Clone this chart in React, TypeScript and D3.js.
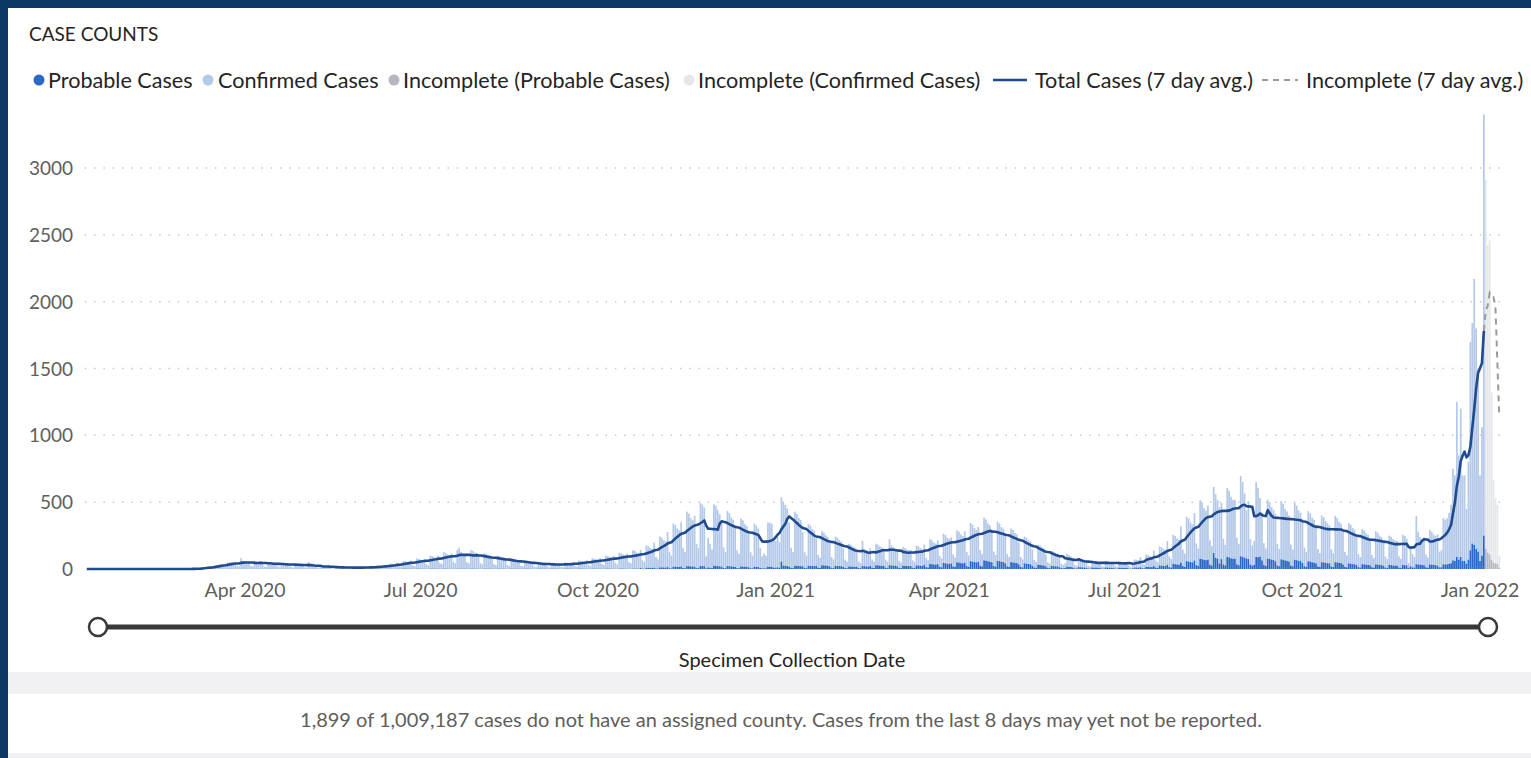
import React from "react";
import * as d3 from "d3";

// ---------- DATA ----------
// Daily specimen-collection counts, first day 2020-01-10; each row is one week (Fri..Thu)
const START = Date.UTC(2020, 0, 10);
const DAY = 86400000;

const tickLabels = ["Apr 2020", "Jul 2020", "Oct 2020", "Jan 2021", "Apr 2021", "Jul 2021", "Oct 2021", "Jan 2022"];
const tickMonths: [number, number][] = [[2020, 3], [2020, 6], [2020, 9], [2021, 0], [2021, 3], [2021, 6], [2021, 9], [2022, 0]];
const yTicks = [0, 500, 1000, 1500, 2000, 2500, 3000];

const confirmedWeeks: number[][] = [
  [0,0,0,0,0,0,0],[0,0,0,0,0,0,0],[0,0,0,0,0,0,0],[0,0,0,0,0,0,0],[0,0,0,0,0,0,0],[0,0,0,0,0,0,0],[0,0,0,0,0,0,0],
  [0,0,0,1,0,1,2],[4,2,1,8,10,11,13],[16,10,8,24,28,30,31],[36,22,18,46,50,48,46],[50,24,20,80,60,56,46],
  [52,24,20,58,56,54,58],[44,20,16,52,48,46,47],[38,18,14,46,44,40,38],[33,15,12,40,40,36,34],[28,12,10,50,30,27,18],
  [20,9,7,25,24,22,19],[14,6,5,16,16,14,13],[11,5,4,14,13,12,11],[12,5,4,15,14,14,13],[16,8,7,22,24,21,21],
  [28,13,11,38,38,34,34],[44,20,17,56,56,51,50],[60,27,22,76,74,68,65],[76,35,28,96,94,86,82],[98,45,36,122,118,108,103],
  [114,52,42,140,157,125,98],[112,51,41,138,133,122,117],[95,43,34,116,112,103,99],[79,36,29,97,94,86,83],[64,29,23,78,75,70,67],
  [51,23,18,62,60,55,53],[40,18,14,49,47,43,41],[34,16,12,42,40,37,36],[37,17,14,46,44,41,39],[50,22,18,61,58,54,52],
  [64,29,23,78,75,70,67],[79,36,29,97,94,86,83],[97,44,35,119,114,106,101],[112,51,41,138,133,122,117],[136,62,50,167,161,149,143],
  [188,86,68,231,222,205,197],[263,120,96,323,311,287,275],[332,151,121,408,393,362,347],[380,180,150,470,460,440,90],[220,180,140,460,450,420,390],
  [337,153,122,413,398,367,352],[293,133,106,359,346,319,306],[262,119,95,321,309,286,150],[90,110,95,330,330,320,200],[200,230,190,480,470,455,430],
  [330,150,120,405,390,360,345],[255,116,93,313,302,278,267],[208,95,76,255,246,227,217],[178,81,65,219,211,194,186],[139,63,50,170,164,151,145],
  [110,50,40,190,130,120,90],[131,60,48,161,155,143,137],[130,60,48,195,150,140,124],[114,52,42,140,135,125,120],[121,55,44,149,143,132,127],
  [151,69,55,185,178,164,158],[178,81,65,219,211,194,186],[196,89,71,240,231,214,205],[233,106,85,286,276,254,244],[261,119,95,320,308,284,273],
  [239,109,87,293,282,260,250],[206,94,75,252,243,224,215],[164,75,60,201,194,179,171],[123,56,45,151,146,134,129],[91,42,33,112,108,100,95],
  [72,33,26,35,95,88,80],[53,24,19,65,62,58,55],[42,19,15,51,49,46,44],[41,19,15,50,48,44,43],[39,18,14,47,46,42,40],
  [46,21,10,25,60,58,56],[75,34,27,92,88,82,78],[117,53,42,143,138,127,122],[178,81,65,219,211,194,186],[272,124,99,333,321,296,284],
  [355,162,129,436,420,388,371],[403,183,146,494,476,439,421],[421,192,153,517,498,460,440],[440,200,160,600,560,480,360],[430,190,150,180,560,520,440],
  [360,164,131,441,425,392,376],[354,161,129,435,419,386,370],[345,157,126,424,408,377,361],[306,139,111,375,361,334,320],[286,130,104,351,338,312,299],
  [283,129,103,347,334,308,296],[246,112,90,302,291,269,258],[215,98,78,263,254,234,224],[201,92,73,247,238,220,210],[179,82,65,220,212,196,187],
  [185,84,67,226,218,200,35],[150,100,80,360,245,205,169],[209,95,76,257,247,228,218],
];

const probableWeeks: number[][] = [
  [0,0,0,0,0,0,0],[0,0,0,0,0,0,0],[0,0,0,0,0,0,0],[0,0,0,0,0,0,0],[0,0,0,0,0,0,0],[0,0,0,0,0,0,0],[0,0,0,0,0,0,0],
  [0,0,0,0,0,0,0],[0,0,0,0,0,0,0],[1,0,0,1,1,1,1],[1,0,0,1,1,1,1],[1,0,0,1,1,1,1],
  [1,0,0,1,1,1,1],[1,0,0,1,1,1,1],[1,0,0,1,1,1,1],[1,0,0,1,1,1,1],[1,0,0,1,1,1,1],
  [0,0,0,1,1,0,0],[0,0,0,1,1,0,0],[0,0,0,1,1,0,0],[0,0,0,1,1,0,0],[0,0,0,1,1,0,0],
  [0,0,0,1,1,0,0],[2,1,1,3,3,2,2],[2,1,1,3,3,2,2],[2,1,1,3,3,2,2],[2,1,1,3,3,2,2],
  [2,1,1,3,3,2,2],[2,1,1,3,3,2,2],[2,1,1,3,3,2,2],[2,1,1,3,3,2,2],[2,1,1,3,3,2,2],
  [2,1,1,3,3,2,2],[2,1,1,3,3,2,2],[2,1,1,3,3,3,2],[2,1,1,3,3,3,2],[2,1,1,3,3,3,2],
  [2,1,1,3,3,3,2],[2,1,1,3,3,3,2],[2,1,1,3,3,3,2],[2,1,1,3,3,3,2],[7,3,3,9,9,8,7],
  [10,4,4,12,12,11,10],[14,6,5,17,17,16,15],[18,8,6,21,21,19,18],[18,8,7,22,22,20,5],[12,9,7,24,23,21,20],
  [17,8,6,22,21,19,18],[15,7,6,19,18,17,16],[13,6,5,17,16,15,8],[5,6,5,17,17,16,10],[10,12,10,55,25,24,22],
  [18,9,7,24,23,22,21],[20,9,7,24,23,22,21],[23,10,8,28,27,25,24],[20,9,7,24,23,22,21],[15,7,6,19,18,17,16],
  [17,8,6,22,21,19,18],[23,10,8,28,27,25,24],[23,10,8,28,27,25,24],[20,9,7,24,23,22,21],[22,10,8,27,26,24,23],
  [31,14,11,38,36,34,32],[36,17,13,45,43,40,38],[41,19,15,50,48,44,42],[47,22,17,58,56,52,49],[53,24,19,65,62,58,55],
  [50,22,18,61,58,54,52],[42,19,15,51,49,46,44],[34,15,12,42,40,37,36],[25,12,9,31,30,28,26],[19,8,7,23,22,20,20],
  [14,7,5,8,18,16,15],[11,5,4,14,13,12,11],[9,4,3,11,10,10,9],[9,4,3,11,10,10,9],[8,4,3,9,9,8,8],
  [9,4,2,5,11,11,10],[13,6,5,16,16,14,14],[21,10,8,26,25,23,22],[31,14,11,38,36,34,32],[47,22,17,58,56,52,49],
  [63,29,23,77,74,68,66],[70,32,26,120,83,77,40],[74,34,27,90,87,80,77],[77,35,28,95,91,84,80],[75,33,26,30,90,88,92],
  [64,29,23,78,75,70,67],[58,27,21,72,69,64,61],[56,26,20,69,66,61,59],[46,21,17,57,55,50,48],[42,19,15,51,49,46,44],
  [42,19,15,51,49,46,44],[34,16,12,42,40,37,36],[30,14,11,36,35,32,31],[28,13,10,34,33,30,29],[24,11,9,30,29,26,25],
  [25,11,9,30,29,27,9],[20,12,10,36,34,32,31],[28,13,10,34,33,30,29],
];

// 2021-12-10 .. 2022-01-03 (complete)
const confirmedTail = [235,118,127,345,336,345,382,437,685,640,1160,780,1110,640,640,410,730,1560,1650,1990,1650,1370,640,960,3150];
const probableTail = [25,12,13,35,34,35,38,43,65,60,90,70,90,60,60,40,70,140,190,180,150,130,60,100,250];
// last 8 days (incomplete)
const incompleteConfirmed = [2760,2300,2350,1250,620,490,440,90];
const incompleteProbable = [150,123,110,70,46,40,40,10];

const legendItems = [
  { label: "Probable Cases", kind: "dot", color: "#2b67c7", x: 39, tx: 48 },
  { label: "Confirmed Cases", kind: "dot", color: "#b4c9e9", x: 208, tx: 218 },
  { label: "Incomplete (Probable Cases)", kind: "dot", color: "#b3b7be", x: 394, tx: 403 },
  { label: "Incomplete (Confirmed Cases)", kind: "dot", color: "#e4e6ea", x: 689, tx: 698 },
  { label: "Total Cases (7 day avg.)", kind: "line", color: "#1f4b8e", x: 993, tx: 1035 },
  { label: "Incomplete (7 day avg.)", kind: "dash", color: "#9a9a9a", x: 1262, tx: 1306 },
];

const FONT = "'Segoe UI', Lato, 'Noto Sans', sans-serif";

export default function App() {
  const W = 1531, H = 758;
  const x = d3.scaleUtc()
    .domain([new Date(Date.UTC(2020, 3, 1)), new Date(Date.UTC(2022, 0, 1))])
    .range([245, 1480]);
  const y = d3.scaleLinear().domain([0, 3000]).range([569, 168]);
  const dateOf = (i: number) => new Date(START + i * DAY);

  const confirmed = [...confirmedWeeks.flat(), ...confirmedTail];
  const probable = [...probableWeeks.flat(), ...probableTail];
  const nC = confirmed.length;
  const totals = confirmed.map((c, i) => c + probable[i]);
  const incTotals = incompleteConfirmed.map((c, i) => c + incompleteProbable[i]);
  const all = [...totals, ...incTotals];
  const avg = all.map((_, i) => d3.mean(all.slice(Math.max(0, i - 6), i + 1)) as number);

  const line = d3.line<[number, number]>()
    .x((d) => x(dateOf(d[0])))
    .y((d) => y(d[1]));
  const solid: [number, number][] = avg.slice(0, nC).map((v, i) => [i, v]);
  const dashed: [number, number][] = avg.slice(nC - 1).map((v, i) => [i + nC - 1, v]);

  const step = x(dateOf(1)) - x(dateOf(0));
  const bw = step * 0.9;
  const plotLeft = x(dateOf(0)) - 2;
  const plotRight = 1502;

  return (
    <svg width={W} height={H} style={{ position: "absolute", left: 0, top: 0, fontFamily: FONT }}>
      <rect x={0} y={0} width={W} height={H} fill="#0c3864" />
      <rect x={8} y={8} width={W - 8} height={H - 8} fill="#ffffff" />
      <text x={29} y={41} fontSize={19} fill="#252423">CASE COUNTS</text>

      {legendItems.map((it) => (
        <g key={it.label}>
          {it.kind === "dot" && <circle cx={it.x} cy={80} r={5.5} fill={it.color} />}
          {it.kind === "line" && <line x1={it.x} x2={it.x + 34} y1={80} y2={80} stroke={it.color} strokeWidth={2.5} />}
          {it.kind === "dash" && <line x1={it.x} x2={it.x + 36} y1={80} y2={80} stroke={it.color} strokeWidth={2} strokeDasharray="6,5" />}
          <text x={it.tx} y={87.5} fontSize={21.6} fill="#252423">{it.label}</text>
        </g>
      ))}

      {yTicks.map((t) => (
        <g key={t}>
          {t > 0 && (
            <line x1={plotLeft} x2={plotRight} y1={y(t)} y2={y(t)} stroke="#c8c8c8" strokeWidth={1.5} strokeDasharray="1.5,7.8" />
          )}
          <text x={73} y={y(t) + 7} fontSize={19} fill="#605e5c" textAnchor="end">{t}</text>
        </g>
      ))}

      {confirmed.map((c, i) => {
        const cx = x(dateOf(i));
        const p = probable[i];
        return (
          <g key={i}>
            {c > 0 && <rect x={cx - bw / 2} y={y(p + c)} width={bw} height={y(p) - y(p + c)} fill="#b4c9e9" />}
            {p > 0 && <rect x={cx - bw / 2} y={y(p)} width={bw} height={y(0) - y(p)} fill="#2b67c7" />}
          </g>
        );
      })}
      {incompleteConfirmed.map((c, j) => {
        const i = nC + j;
        const cx = x(dateOf(i));
        const p = incompleteProbable[j];
        return (
          <g key={"inc" + j}>
            <rect x={cx - bw / 2} y={y(p + c)} width={bw} height={y(p) - y(p + c)} fill="#e4e6ea" />
            <rect x={cx - bw / 2} y={y(p)} width={bw} height={y(0) - y(p)} fill="#b3b7be" />
          </g>
        );
      })}

      <path d={line(solid) || ""} fill="none" stroke="#1f4b8e" strokeWidth={2.6} strokeLinejoin="round" />
      <path d={line(dashed) || ""} fill="none" stroke="#9a9a9a" strokeWidth={2} strokeDasharray="6,5" />

      {tickMonths.map(([yr, m], k) => {
        const tx = x(new Date(Date.UTC(yr, m, 1)));
        return (
          <text key={k} x={tx} y={597} fontSize={19.5} fill="#605e5c" textAnchor="middle">{tickLabels[k]}</text>
        );
      })}

      <line x1={98} x2={1488} y1={627} y2={627} stroke="#3a3938" strokeWidth={5} />
      <circle cx={98} cy={627} r={9} fill="#ffffff" stroke="#3a3938" strokeWidth={2.5} />
      <circle cx={1488} cy={627} r={9} fill="#ffffff" stroke="#3a3938" strokeWidth={2.5} />
      <text x={792} y={667} fontSize={20} fill="#252423" textAnchor="middle">Specimen Collection Date</text>

      <rect x={8} y={672} width={W - 8} height={22} fill="#f1f1f3" />
      <text x={781} y={727} fontSize={20} fill="#605e5c" textAnchor="middle">
        1,899 of 1,009,187 cases do not have an assigned county. Cases from the last 8 days may yet not be reported.
      </text>
      <rect x={8} y={753} width={W - 8} height={5} fill="#f1f1f3" />
    </svg>
  );
}
